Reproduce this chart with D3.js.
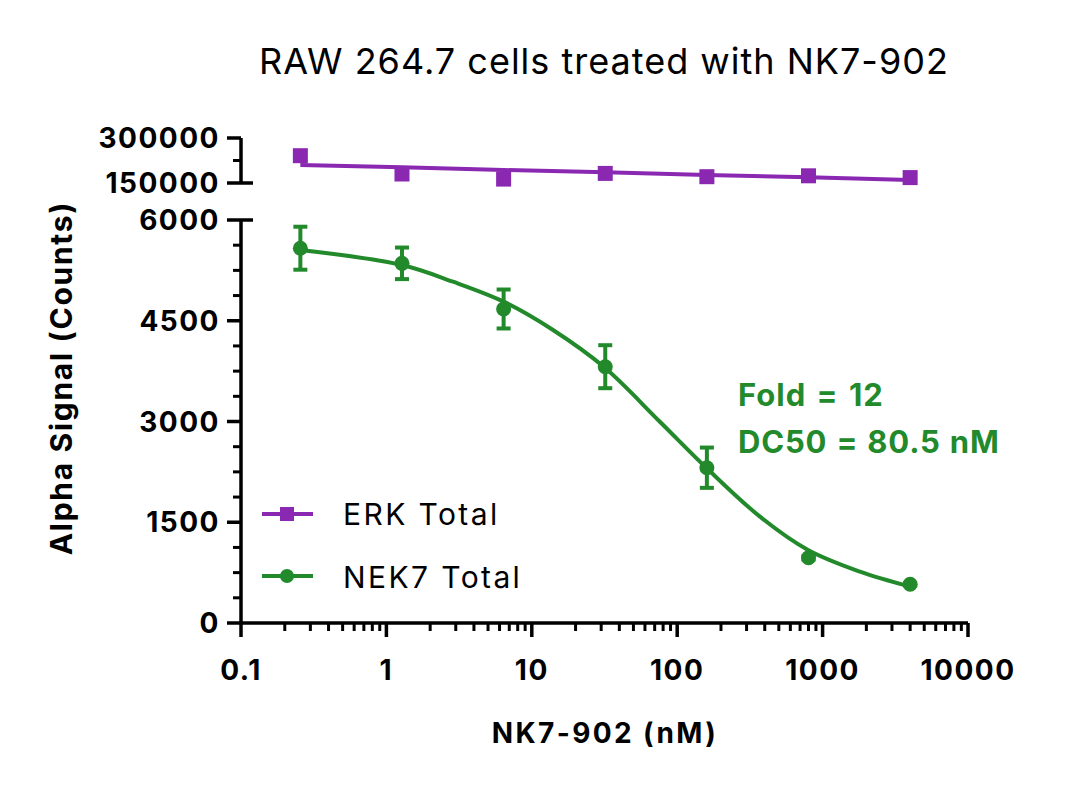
<!DOCTYPE html>
<html>
<head>
<meta charset="UTF-8">
<script src="https://d3js.org/d3.v7.min.js"></script>
<style>
  body { margin: 0; background: #fff; }
  svg text { font-family: 'Inter', 'Lato', sans-serif; }
  .tick-lbl { font-size: 28px; font-weight: 700; fill: #000; letter-spacing: 1.5px; }
</style>
</head>
<body>
<svg id="chart" width="1080" height="794"></svg>
<script>
// data (nM, counts)
const concentrations = [0.256, 1.28, 6.4, 32, 160, 800, 4000];
const erkValues = [241000, 180000, 163000, 182000, 171000, 174000, 168000];
const nek7Values = [5580, 5355, 4675, 3816, 2312, 972, 576];
const nek7Errors = [320, 235, 290, 320, 300, 25, 20];

// fitted curves
const erkFitX = [0.256, 1.28, 6.4, 32, 160, 800, 4000];
const erkFitY = [210000, 202300, 193300, 185700, 176700, 169000, 160000];
const nekFitX = [0.256, 1.28, 2.87, 6.4, 14, 31.4, 76, 160, 371, 794, 1808, 3990];
const nekFitY = [5553, 5330, 5081, 4784, 4362, 3810, 2997, 2303, 1583, 1087, 764, 541];

const xTicks = [0.1, 1, 10, 100, 1000, 10000];
const xTickLabels = ['0.1', '1', '10', '100', '1000', '10000'];
const yTopTicks = [150000, 300000];
const yBotTicks = [0, 1500, 3000, 4500, 6000];

const purple = '#8a28b1', green = '#238a2c';

const svg = d3.select('#chart');

const x = d3.scaleLog().domain([0.1, 10000]).range([241, 968]);
const yTop = d3.scaleLinear().domain([150000, 300000]).range([183, 138]);
const yBot = d3.scaleLinear().domain([0, 6000]).range([623, 220]);

// title + axis titles
svg.append('text').attr('x', 604).attr('y', 74).attr('text-anchor', 'middle')
  .attr('font-size', 36).attr('letter-spacing', 1).attr('fill', '#000')
  .text('RAW 264.7 cells treated with NK7-902');
svg.append('text').attr('transform', 'translate(72,378) rotate(-90)')
  .attr('text-anchor', 'middle').attr('font-size', 30).attr('font-weight', 700)
  .attr('letter-spacing', 1.7)
  .text('Alpha Signal (Counts)');
svg.append('text').attr('x', 605).attr('y', 743).attr('text-anchor', 'middle')
  .attr('font-size', 28).attr('font-weight', 700).attr('letter-spacing', 2.4)
  .text('NK7-902 (nM)');

const axisW = 3.5;

// x axis
const xAxis = svg.append('g').attr('transform', 'translate(0,623)');
xAxis.append('line').attr('x1', 241).attr('x2', 968).attr('stroke', '#000').attr('stroke-width', axisW);
const minors = [];
for (let e = -1; e < 4; e++) for (let k = 2; k <= 9; k++) minors.push(k * Math.pow(10, e));
xAxis.selectAll('line.minor').data(minors).join('line').attr('class', 'minor')
  .attr('x1', d => x(d)).attr('x2', d => x(d)).attr('y1', 0).attr('y2', 8)
  .attr('stroke', '#000').attr('stroke-width', 3);
xAxis.selectAll('line.major').data(xTicks).join('line').attr('class', 'major')
  .attr('x1', d => x(d)).attr('x2', d => x(d)).attr('y1', 0).attr('y2', 14)
  .attr('stroke', '#000').attr('stroke-width', axisW);
xAxis.selectAll('text').data(xTicks).join('text').attr('class', 'tick-lbl')
  .attr('x', d => x(d)).attr('y', 57).attr('text-anchor', 'middle')
  .text((d, i) => xTickLabels[i]);

// y axis, upper segment
const yTopG = svg.append('g');
yTopG.append('line').attr('x1', 241).attr('x2', 241).attr('y1', yTop(300000)).attr('y2', yTop(150000))
  .attr('stroke', '#000').attr('stroke-width', axisW);
yTopG.append('line').attr('x1', 233).attr('x2', 241).attr('y1', yTop(225000)).attr('y2', yTop(225000))
  .attr('stroke', '#000').attr('stroke-width', 3);
yTopG.selectAll('line.major').data(yTopTicks).join('line').attr('class', 'major')
  .attr('x1', 227).attr('x2', d => d === 150000 ? 253 : 241)
  .attr('y1', d => yTop(d)).attr('y2', d => yTop(d))
  .attr('stroke', '#000').attr('stroke-width', axisW);
yTopG.selectAll('text').data(yTopTicks).join('text').attr('class', 'tick-lbl')
  .attr('x', 220).attr('y', d => yTop(d) + 10).attr('text-anchor', 'end')
  .text(d => d);

// y axis, lower segment
const yBotG = svg.append('g');
yBotG.append('line').attr('x1', 241).attr('x2', 241).attr('y1', yBot(6000)).attr('y2', yBot(0))
  .attr('stroke', '#000').attr('stroke-width', axisW);
yBotG.selectAll('line.minor').data(d3.range(375, 6000, 375).filter(v => v % 1500 !== 0))
  .join('line').attr('class', 'minor')
  .attr('x1', 233).attr('x2', 241).attr('y1', d => yBot(d)).attr('y2', d => yBot(d))
  .attr('stroke', '#000').attr('stroke-width', 3);
yBotG.selectAll('line.major').data(yBotTicks).join('line').attr('class', 'major')
  .attr('x1', 227).attr('x2', d => d === 6000 ? 253 : 241)
  .attr('y1', d => yBot(d)).attr('y2', d => yBot(d))
  .attr('stroke', '#000').attr('stroke-width', axisW);
yBotG.selectAll('text').data(yBotTicks).join('text').attr('class', 'tick-lbl')
  .attr('x', 220).attr('y', d => yBot(d) + 10).attr('text-anchor', 'end')
  .text(d => d);

// ERK series
const erkLine = d3.line().x(d => x(d[0])).y(d => yTop(d[1]));
svg.append('path').datum(d3.zip(erkFitX, erkFitY)).attr('d', erkLine)
  .attr('fill', 'none').attr('stroke', purple).attr('stroke-width', 4);
svg.selectAll('rect.erk').data(d3.zip(concentrations, erkValues)).join('rect').attr('class', 'erk')
  .attr('x', d => x(d[0]) - 7.5).attr('y', d => yTop(d[1]) - 7.5)
  .attr('width', 15).attr('height', 15).attr('fill', purple);

// NEK7 series
const nekLine = d3.line().x(d => x(d[0])).y(d => yBot(d[1])).curve(d3.curveCatmullRom);
svg.append('path').datum(d3.zip(nekFitX, nekFitY)).attr('d', nekLine)
  .attr('fill', 'none').attr('stroke', green).attr('stroke-width', 4);
const nekPts = d3.zip(concentrations, nek7Values, nek7Errors);
const errG = svg.append('g').attr('stroke', green).attr('stroke-width', 4);
errG.selectAll('line.v').data(nekPts).join('line').attr('class', 'v')
  .attr('x1', d => x(d[0])).attr('x2', d => x(d[0]))
  .attr('y1', d => yBot(d[1] + d[2])).attr('y2', d => yBot(d[1] - d[2]));
errG.selectAll('line.cap').data(nekPts.flatMap(d => [[d[0], d[1] + d[2]], [d[0], d[1] - d[2]]]))
  .join('line').attr('class', 'cap')
  .attr('x1', d => x(d[0]) - 7).attr('x2', d => x(d[0]) + 7)
  .attr('y1', d => yBot(d[1])).attr('y2', d => yBot(d[1]));
svg.selectAll('circle.nek').data(nekPts).join('circle').attr('class', 'nek')
  .attr('cx', d => x(d[0])).attr('cy', d => yBot(d[1])).attr('r', 7.5).attr('fill', green);

// annotation
svg.append('text').attr('x', 738).attr('y', 406).attr('font-size', 31).attr('font-weight', 700)
  .attr('letter-spacing', 1).attr('word-spacing', 2)
  .attr('fill', green).text('Fold = 12');
svg.append('text').attr('x', 738).attr('y', 453).attr('font-size', 31).attr('font-weight', 700)
  .attr('letter-spacing', 0.8).attr('word-spacing', 1)
  .attr('fill', green).text('DC50 = 80.5 nM');

// legend
const legend = svg.append('g');
legend.append('line').attr('x1', 262).attr('x2', 313).attr('y1', 514).attr('y2', 514)
  .attr('stroke', purple).attr('stroke-width', 4);
legend.append('rect').attr('x', 280).attr('y', 507).attr('width', 14).attr('height', 14).attr('fill', purple);
legend.append('text').attr('x', 343).attr('y', 525).attr('font-size', 30).attr('letter-spacing', 2.4)
  .text('ERK Total');
legend.append('line').attr('x1', 262).attr('x2', 313).attr('y1', 576).attr('y2', 576)
  .attr('stroke', green).attr('stroke-width', 4);
legend.append('circle').attr('cx', 287).attr('cy', 576).attr('r', 7).attr('fill', green);
legend.append('text').attr('x', 343).attr('y', 588).attr('font-size', 30).attr('letter-spacing', 2.4)
  .text('NEK7 Total');
</script>
</body>
</html>
